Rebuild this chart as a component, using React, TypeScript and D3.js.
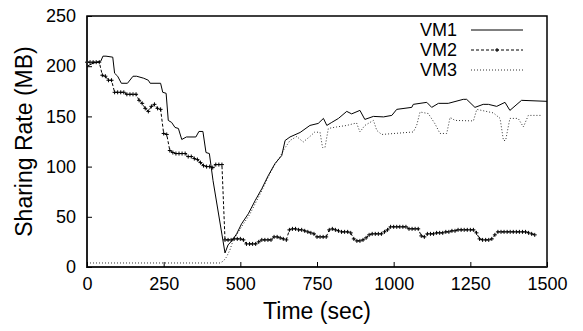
import { useEffect, useRef } from 'react';
import * as d3 from 'd3';

// readings taken off the figure, [sec, MB]
const vm1: [number, number][] = [
  [0, 200], [20, 203], [45, 205], [52, 210], [62, 210], [84, 209], [90, 193], [100, 190], [112, 183], [132, 183],
  [150, 190], [162, 190], [185, 188], [200, 186], [206, 183], [240, 183], [247, 174], [258, 173], [265, 146],
  [276, 144], [287, 139], [298, 138], [309, 127], [324, 129.5], [355, 129.5], [365, 135], [378, 135], [388, 114],
  [399, 113], [411, 86], [450, 14], [460, 22], [472, 26], [488, 33], [504, 43], [526, 53], [548, 66], [570, 78],
  [591, 91], [613, 103], [635, 111], [646, 126], [662, 129.5], [695, 134], [727, 141], [754, 143], [771, 148],
  [782, 141], [798, 144], [820, 148], [847, 155], [863, 152.5], [890, 156], [906, 147], [934, 150], [967, 149.5],
  [994, 151], [1010, 157], [1059, 159], [1064, 162], [1108, 164], [1124, 159], [1146, 163], [1178, 163],
  [1227, 167], [1238, 167], [1265, 159], [1292, 162], [1309, 162], [1336, 160], [1363, 164], [1379, 156],
  [1417, 166], [1500, 165],
];

// VM2 is sampled every 10 s
const vm2Step = 10;
const vm2 = [
  204, 204, 204, 204, 204, 191, 190, 186, 186, 174, 174, 174, 174, 172, 172, 172, 172, 166, 163, 158,
  155, 160, 162, 158, 157, 133, 132, 116, 114, 113, 113, 113, 113, 110, 110, 108, 107, 104, 101, 100,
  100, 99, 102, 102, 102, 27, 27, 27, 28, 28, 28, 27, 23, 23, 23, 23, 25, 27, 27, 27,
  27, 30, 30, 29, 28, 27, 37, 38, 38, 37, 37, 36, 35, 34, 33, 30, 30, 30, 30, 37,
  38, 37, 36, 35, 35, 35, 34, 28, 26, 26, 27, 29, 32, 33, 33, 33, 33, 35, 37, 40,
  40, 40, 40, 40, 40, 38, 38, 38, 38, 31, 30, 33, 33, 33, 34, 34, 34, 35, 35, 36,
  36, 37, 37, 37, 37, 37, 37, 34, 28, 27, 27, 27, 28, 32, 35, 35, 35, 35, 35, 35,
  35, 35, 35, 35, 34, 33, 32,
];

const vm3: [number, number][] = [
  [0, 4], [434, 4], [445, 6], [455, 10], [466, 17], [477, 27], [490, 33], [510, 43], [530, 52], [550, 64],
  [570, 76], [590, 89], [610, 101], [630, 110], [640, 116], [662, 126], [684, 130], [705, 124.5], [727, 130],
  [743, 134.5], [760, 134], [768, 119], [776, 119], [787, 138], [814, 139.5], [847, 141], [879, 143.5],
  [890, 134.5], [906, 141], [934, 146], [945, 136], [961, 132], [1064, 134.5], [1075, 141], [1086, 154.4],
  [1113, 152.8], [1135, 142.5], [1151, 133], [1173, 133], [1184, 149], [1200, 146], [1260, 145.5], [1271, 157],
  [1325, 153.5], [1347, 148], [1358, 126], [1365, 126], [1379, 148], [1406, 148], [1423, 139.5], [1439, 151],
  [1483, 151],
];

const xTicks = [0, 250, 500, 750, 1000, 1250, 1500];
const yTicks = [0, 50, 100, 150, 200, 250];
const legendNames = ['VM1', 'VM2', 'VM3'];

const W = 583, H = 331;
const FONT = 'Liberation Sans, Arial, sans-serif';

export default function App() {
  const ref = useRef<SVGSVGElement | null>(null);
  useEffect(() => {
    const svg = d3.select(ref.current!);
    svg.selectAll('*').remove();
    const m = { left: 87, right: 36, top: 16, bottom: 64 };
    const x = d3.scaleLinear().domain([0, 1500]).range([m.left, W - m.right]);
    const y = d3.scaleLinear().domain([0, 250]).range([H - m.bottom, m.top]);
    const line = d3.line<[number, number]>().x((d) => x(d[0])).y((d) => y(d[1]));
    const vm2pts: [number, number][] = vm2.map((v, i) => [i * vm2Step, v]);

    svg.append('rect').attr('width', W).attr('height', H).attr('fill', '#fff');

    // series
    svg.append('path').datum(vm3).attr('d', line).attr('fill', 'none')
      .attr('stroke', '#333').attr('stroke-width', 1).attr('stroke-dasharray', '1,2');
    svg.append('path').datum(vm2pts).attr('d', line).attr('fill', 'none')
      .attr('stroke', '#000').attr('stroke-width', 1).attr('stroke-dasharray', '3,2');
    const plus = (g: d3.Selection<SVGGElement, unknown, null, undefined>, px: number, py: number) => {
      g.append('path').attr('d', `M${px - 2},${py}H${px + 2}M${px},${py - 2}V${py + 2}`)
        .attr('stroke', '#000').attr('stroke-width', 1);
    };
    const marks = svg.append('g');
    vm2pts.forEach((d) => plus(marks, x(d[0]), y(d[1])));
    svg.append('path').datum(vm1).attr('d', line).attr('fill', 'none')
      .attr('stroke', '#000').attr('stroke-width', 1);

    // frame
    const [x0, x1] = x.range();
    const [y0, y1] = y.range();
    svg.append('rect').attr('x', x0).attr('y', y1).attr('width', x1 - x0).attr('height', y0 - y1)
      .attr('fill', 'none').attr('stroke', '#000').attr('stroke-width', 1.5);
    svg.append('path').attr('d', `M${x0},${y1}V${y0}H${x1}`).attr('fill', 'none')
      .attr('stroke', '#222').attr('stroke-width', 2);

    // axes
    const xa = svg.append('g').attr('transform', `translate(0,${y0})`)
      .call(d3.axisBottom(x).tickValues(xTicks).tickSize(-5).tickPadding(10).tickFormat(d3.format('d')));
    xa.select('.domain').remove();
    xa.selectAll('line').attr('stroke', '#000');
    xa.selectAll('text').attr('font-size', 18).attr('font-family', FONT).attr('fill', '#000');
    const ya = svg.append('g').attr('transform', `translate(${x0},0)`)
      .call(d3.axisLeft(y).tickValues(yTicks).tickSize(-5).tickPadding(11).tickFormat(d3.format('d')));
    ya.select('.domain').remove();
    ya.selectAll('line').attr('stroke', '#000');
    ya.selectAll('text').attr('font-size', 18).attr('font-family', FONT).attr('fill', '#000');

    svg.append('text').attr('x', (x0 + x1) / 2).attr('y', 319).attr('text-anchor', 'middle')
      .attr('font-size', 23).attr('font-family', FONT).text('Time (sec)');
    svg.append('text').attr('transform', `translate(32,${(y0 + y1) / 2}) rotate(-90)`).attr('text-anchor', 'middle')
      .attr('font-size', 23).attr('font-family', FONT).text('Sharing Rate (MB)');

    // legend
    const styles = [
      { dash: null, color: '#000' },
      { dash: '3,2', color: '#000' },
      { dash: '1,2', color: '#333' },
    ];
    legendNames.forEach((name, i) => {
      const ly = 30 + i * 20;
      svg.append('text').attr('x', 457).attr('y', ly + 6).attr('text-anchor', 'end')
        .attr('font-size', 18).attr('font-family', FONT).text(name);
      svg.append('line').attr('x1', 471).attr('x2', 523).attr('y1', ly).attr('y2', ly)
        .attr('stroke', styles[i].color).attr('stroke-width', 1)
        .attr('stroke-dasharray', styles[i].dash ?? 'none');
      if (i === 1) plus(svg.append('g'), 497, ly);
    });
  }, []);
  return (
    <div style={{ position: 'fixed', left: 0, top: 0 }}>
      <svg ref={ref} width={W} height={H} style={{ display: 'block' }} />
    </div>
  );
}
